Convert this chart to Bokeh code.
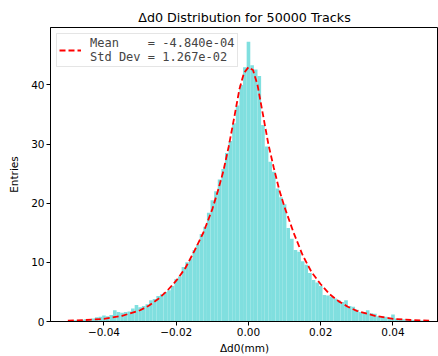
import numpy as np
from bokeh.plotting import figure
from bokeh.models import Range1d, FixedTicker, Legend, LegendItem, ColumnDataSource
from bokeh.embed import file_html
from bokeh.resources import INLINE

# ---- data ----
bin_width = 0.001
bin_index = list(range(-49, 50))
counts = [0.15, 0.2, 0.25, 0.3, 0.4, 0.4, 0.5, 0.7, 0.8, 1.0,
          0.9, 1.1, 1.9, 1.6, 1.5, 1.6, 1.7, 2.2, 2.8, 2.4,
          2.6, 2.9, 3.6, 3.8, 4.3, 4.6, 5.0, 5.3, 6.0, 7.2,
          7.6, 9.2, 10.0, 10.6, 12.1, 13.0, 14.8, 16.0, 18.4, 20.5,
          22.0, 24.0, 25.8, 28.5, 30.5, 33.5, 36.5, 40.0, 43.0,
          47.3,
          43.3, 42.6, 41.5, 33.2, 29.6, 27.0, 25.3, 22.5, 21.0, 19.8,
          15.8, 14.0, 12.1, 11.8, 10.2, 9.6, 8.2, 7.0, 6.6, 6.0,
          4.5, 4.4, 4.2, 3.9, 3.6, 3.3, 3.6, 2.6, 2.5, 2.0,
          1.6, 1.6, 1.9, 1.4, 1.3, 0.9, 0.9, 0.8, 0.6, 1.2,
          0.5, 0.45, 0.4, 0.35, 0.3, 0.25, 0.2, 0.15, 0.1]

fit_x = [-0.05, -0.045, -0.04, -0.035, -0.03, -0.0275, -0.025, -0.0225, -0.02,
         -0.0175, -0.015, -0.0125, -0.01, -0.0085, -0.007, -0.0055, -0.004,
         -0.0025, -0.00125, 0.0, 0.00125, 0.0025, 0.004, 0.0055, 0.007, 0.0085,
         0.01, 0.0125, 0.015, 0.0175, 0.02, 0.0225, 0.025, 0.0275, 0.03, 0.035,
         0.04, 0.045, 0.05]
fit_y = [0.15, 0.25, 0.45, 0.95, 1.9, 2.7, 3.8, 5.2, 6.9,
         9.0, 11.9, 15.0, 19.0, 22.0, 25.3, 29.5, 34.3,
         39.3, 42.0, 43.0, 42.5, 40.0, 35.0, 30.0, 26.0, 22.3,
         19.3, 15.0, 11.2, 8.3, 6.3, 4.6, 3.4, 2.5, 1.8, 0.95,
         0.45, 0.25, 0.15]

x_ticks = [-0.04, -0.02, 0.0, 0.02, 0.04]
x_tick_labels = ["\u22120.04", "\u22120.02", "0.00", "0.02", "0.04"]
y_ticks = [0, 10, 20, 30, 40]

title_text = "\u0394d0 Distribution for 50000 Tracks"
x_label = "\u0394d0(mm)"
y_label = "Entries"
legend_text = "Mean    = -4.840e-04\nStd Dev = 1.267e-02"

# ---- figure ----
centers = np.array(bin_index) * bin_width
src = ColumnDataSource(dict(left=centers - bin_width / 2, right=centers + bin_width / 2,
                            top=counts, bottom=[0] * len(counts)))

p = figure(width=438, height=356, output_backend="svg", toolbar_location=None,
           x_range=Range1d(-0.0548, 0.0526), y_range=Range1d(0, 49.7),
           min_border_left=50, min_border_right=0, min_border_top=27, min_border_bottom=34)

p.title.text = title_text
p.title.align = "center"
p.title.text_font = "DejaVu Sans"
p.title.text_font_size = "12.7px"
p.title.text_font_style = "normal"
p.title.text_color = "black"
p.title.standoff = 6

p.quad(left="left", right="right", top="top", bottom="bottom", source=src,
       fill_color="#80dfdf", line_color=None)
fit = p.line(fit_x, fit_y, line_color="red", line_width=1.8, line_dash="6 3")

p.xgrid.visible = False
p.ygrid.visible = False
p.outline_line_color = "black"
p.outline_line_width = 1

for ax in (p.xaxis[0], p.yaxis[0]):
    ax.axis_line_color = "black"
    ax.major_tick_line_color = "black"
    ax.minor_tick_line_color = None
    ax.major_tick_in = 0
    ax.major_tick_out = 4
    ax.major_label_text_font = "DejaVu Sans"
    ax.major_label_text_font_size = "10.5px"
    ax.major_label_text_color = "black"
    ax.axis_label_text_font = "DejaVu Sans"
    ax.axis_label_text_font_size = "10.5px"
    ax.axis_label_text_font_style = "normal"
    ax.axis_label_text_color = "black"
    ax.major_label_standoff = 2

p.xaxis.axis_label_standoff = 3
p.yaxis.axis_label_standoff = 8

p.xaxis.ticker = FixedTicker(ticks=x_ticks)
p.xaxis.major_label_overrides = {t: l for t, l in zip(x_ticks, x_tick_labels)}
p.yaxis.ticker = FixedTicker(ticks=y_ticks)
p.xaxis.axis_label = x_label
p.yaxis.axis_label = y_label

legend = Legend(items=[LegendItem(label=legend_text, renderers=[fit])],
                location="top_left", margin=6, padding=2, spacing=0,
                glyph_width=22, label_standoff=9,
                label_text_font="DejaVu Sans Mono", label_text_font_size="12px",
                border_line_color="#cccccc", border_line_width=1,
                background_fill_alpha=0.8)
p.add_layout(legend)

open("out.html", "w").write(file_html(p, INLINE))
